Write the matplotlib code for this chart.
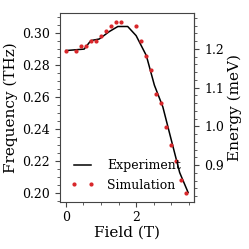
import numpy as np
import matplotlib
matplotlib.use('Agg')
import matplotlib.pyplot as plt
from matplotlib.ticker import AutoMinorLocator

plt.rcParams['font.family'] = 'DejaVu Serif'

# experiment curve (field in T, frequency in THz)
exp_field = [0.0, 0.52, 0.71, 0.95, 1.24, 1.48, 1.76, 2.0, 2.29, 2.52, 2.76, 2.95, 3.24, 3.48]
exp_freq = [0.2891, 0.2900, 0.2953, 0.2963, 0.3010, 0.3041, 0.3041, 0.2984, 0.2860, 0.2675,
            0.2540, 0.2377, 0.2130, 0.2006]

# simulation points
sim_field = [0.0, 0.286, 0.429, 0.571, 0.714, 0.857, 1.0, 1.143, 1.286, 1.429, 1.571,
             2.0, 2.143, 2.286, 2.429, 2.571, 2.714, 2.857, 3.0, 3.143, 3.286, 3.429]
sim_freq = [0.2891, 0.2891, 0.2922, 0.2922, 0.2953, 0.2953, 0.2984, 0.3014, 0.3045, 0.3072,
            0.3072, 0.3045, 0.2953, 0.2860, 0.2772, 0.2619, 0.2562, 0.2412, 0.2300, 0.2202,
            0.2082, 0.2002]

THZ_PER_MEV = 0.241799

fig, ax = plt.subplots(figsize=(2.49, 2.49), dpi=100)
fig.subplots_adjust(left=0.24, right=0.78, top=0.948, bottom=0.19)

ax.plot(exp_field, exp_freq, c='k', lw=1.1, label='Experiment')
ax.plot(sim_field, sim_freq, ls='none', marker='o', ms=2.0, c='#d8262a', label='Simulation')

ax.set_xlabel('Field (T)', fontsize=11, labelpad=1)
ax.set_ylabel('Frequency (THz)', fontsize=11, labelpad=3)
ax.tick_params(labelsize=9)
ax.xaxis.set_minor_locator(AutoMinorLocator())
ax.yaxis.set_minor_locator(AutoMinorLocator())

sec = ax.secondary_yaxis('right', functions=(lambda f: f / THZ_PER_MEV, lambda e: e * THZ_PER_MEV))
sec.set_ylabel('Energy (meV)', fontsize=11, labelpad=3)
sec.tick_params(labelsize=9)
sec.yaxis.set_minor_locator(AutoMinorLocator())

for a in (ax, sec):
    for s in a.spines.values():
        s.set_color('#444444')
    a.tick_params(which='both', colors='#444444', labelcolor='k')

ax.legend(loc='lower left', frameon=False, fontsize=9, numpoints=2, handlelength=2.0,
          handletextpad=1.0, borderaxespad=0.4)

fig.savefig('out.png', dpi=100)
